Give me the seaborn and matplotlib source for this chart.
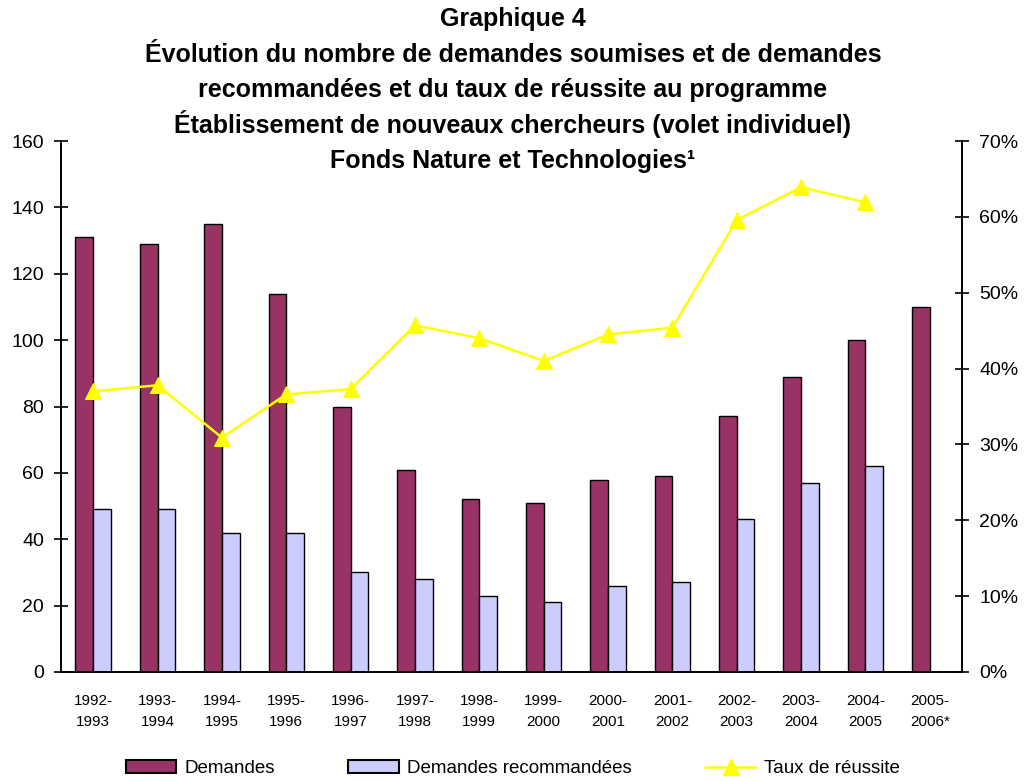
import numpy as np
import pandas as pd
import matplotlib
matplotlib.use('Agg')
import matplotlib.pyplot as plt
from matplotlib.patches import Patch
from matplotlib.lines import Line2D
from matplotlib.ticker import PercentFormatter
import seaborn as sns

# data
periods = ["1992-\n1993", "1993-\n1994", "1994-\n1995", "1995-\n1996", "1996-\n1997",
           "1997-\n1998", "1998-\n1999", "1999-\n2000", "2000-\n2001", "2001-\n2002",
           "2002-\n2003", "2003-\n2004", "2004-\n2005", "2005-\n2006*"]
demandes = [131, 129, 135, 114, 80, 61, 52, 51, 58, 59, 77, 89, 100, 110]
recommandees = [49, 49, 42, 42, 30, 28, 23, 21, 26, 27, 46, 57, 62, np.nan]
taux = [0.370, 0.378, 0.309, 0.366, 0.373, 0.457, 0.440, 0.410, 0.445, 0.454, 0.596, 0.639, 0.619, np.nan]

series = ["Demandes", "Demandes recommandées"]
colors = ["#993366", "#CCCCFF"]
line_label = "Taux de réussite"
line_color = "#FFFF00"

title_lines = ["Graphique 4",
               "Évolution du nombre de demandes soumises et de demandes",
               "recommandées et du taux de réussite au programme",
               "Établissement de nouveaux chercheurs (volet individuel)",
               "Fonds Nature et Technologies¹"]

sns.set_style("white")
plt.rcParams['font.family'] = ['Liberation Sans', 'DejaVu Sans']
plt.rcParams['text.color'] = 'black'
plt.rcParams['xtick.color'] = 'black'
plt.rcParams['ytick.color'] = 'black'
plt.rcParams['axes.labelcolor'] = 'black'

bars = pd.DataFrame({
    "period": periods * 2,
    "serie": [series[0]] * len(periods) + [series[1]] * len(periods),
    "valeur": demandes + recommandees,
}).dropna()

rate = pd.DataFrame({"pos": np.arange(len(periods)), "taux": taux}).dropna()

W, H = 1026, 781
fig = plt.figure(figsize=(W / 100, H / 100), dpi=100)
ax = fig.add_axes([61 / W, 1 - 672 / H, (962 - 61) / W, (672 - 141) / H])

sns.barplot(data=bars, x="period", y="valeur", hue="serie", order=periods,
            hue_order=series, palette=colors, saturation=1, width=0.55,
            edgecolor="black", linewidth=1.0, errorbar=None, legend=False, ax=ax)

ax2 = ax.twinx()
sns.lineplot(data=rate, x="pos", y="taux", ax=ax2, color=line_color, linewidth=1.8,
             marker="^", markersize=11, markeredgecolor=line_color)

ax.set_xlim(-0.5, len(periods) - 0.5)
ax.set_ylim(0, 160)
ax.set_yticks(range(0, 161, 20))
ax2.set_ylim(0, 0.7)
ax2.set_yticks(np.arange(0, 0.71, 0.1))
ax2.yaxis.set_major_formatter(PercentFormatter(xmax=1, decimals=0))

ax.set_xlabel("")
ax.set_ylabel("")
ax2.set_xlabel("")
ax2.set_ylabel("")

ax.set_xticks(range(len(periods)))
ax.set_xticklabels(periods)
ax.set_xticks(np.arange(0.5, len(periods) - 1, 1), minor=True)
ax.tick_params(axis="x", which="major", length=0, labelsize=11, pad=16)
ax.tick_params(axis="x", which="minor", direction="inout", length=10, width=1.2)
for lbl in ax.get_xticklabels():
    lbl.set_linespacing(1.6)

ax.tick_params(axis="y", direction="inout", length=9.5, width=1.2, labelsize=14, pad=7.5)
ax2.tick_params(axis="y", direction="inout", length=9.5, width=1.2, labelsize=14, pad=7.5)

for a in (ax, ax2):
    a.spines["top"].set_visible(False)
    for s in ("left", "right", "bottom"):
        a.spines[s].set_linewidth(1.4)
        a.spines[s].set_color("black")
ax.spines["right"].set_visible(False)
ax2.spines["left"].set_visible(False)
ax2.spines["bottom"].set_visible(False)

# title lines placed one by one so accents don't change the spacing
for i, line in enumerate(title_lines):
    fig.text(0.5, 1 - (26 + 35.6 * i) / H, line, ha="center", va="baseline",
             fontsize=18, fontweight="bold", color="black")

handles = [Patch(facecolor=colors[0], edgecolor="black", linewidth=1.5),
           Patch(facecolor=colors[1], edgecolor="black", linewidth=1.5),
           Line2D([], [], color=line_color, linewidth=1.8, marker="^",
                  markersize=11, markeredgecolor=line_color)]
fig.legend(handles, series + [line_label], loc="lower center",
           bbox_to_anchor=(0.5, -0.017), ncol=3, frameon=False, fontsize=13.5,
           handlelength=2.7, handleheight=0.7, columnspacing=3.9, handletextpad=0.45)

fig.savefig("out.png", dpi=100)
